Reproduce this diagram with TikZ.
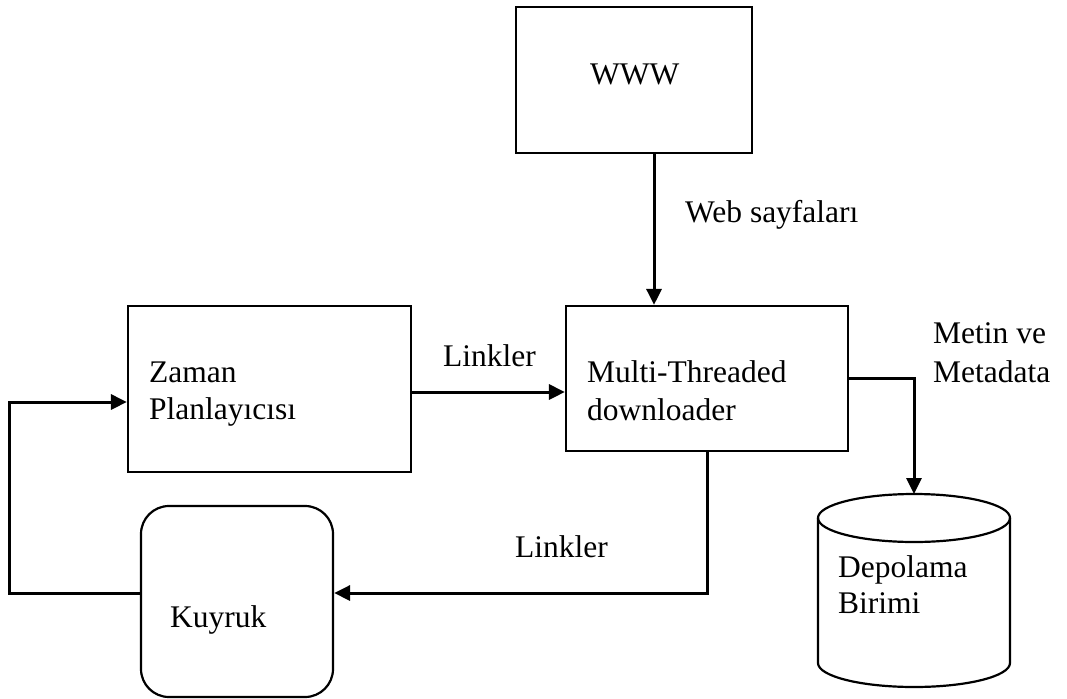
\documentclass[tikz,border=0pt]{standalone}
\usepackage{fontspec}
\setmainfont{Liberation Serif}
\usetikzlibrary{arrows.meta}
\begin{document}
\begin{tikzpicture}[x=1pt,y=-1pt,
  box/.style={draw=black,line width=2.2pt,rectangle,inner sep=0pt},
  arr/.style={draw=black,line width=3pt,line join=miter,-{Triangle[length=16pt,width=15pt]}},
  lbl/.style={anchor=base west,inner sep=0pt,font=\fontsize{31.5}{38}\selectfont}]
\useasboundingbox (0,0) rectangle (1067,698);
% boxes
\node[box,minimum width=236pt,minimum height=146pt] (www) at (634,80) {};
\node[box,minimum width=283pt,minimum height=166pt] (zaman) at (269.5,389) {};
\node[box,minimum width=282pt,minimum height=145pt] (multi) at (707,378.5) {};
\node[box,rounded corners=28pt,minimum width=192pt,minimum height=191pt] (kuyruk) at (237,601.5) {};
% cylinder
\coordinate (cyltop) at (914,494);
\draw[line width=2.2pt] (914,518) ellipse [x radius=96, y radius=24];
\draw[line width=2.2pt] (818,518) -- (818,663) arc[start angle=180,end angle=0,x radius=96,y radius=24] -- (1010,518);
% texts
\node[lbl] (t1) at (590,85) {WWW};
\node[lbl] (t2) at (685,222) {Web sayfaları};
\node[lbl] (t3) at (149,382) {Zaman};
\node[lbl] (t4) at (149,419) {Planlayıcısı};
\node[lbl] (t5) at (587,382) {Multi-Threaded};
\node[lbl] (t6) at (587,420) {downloader};
\node[lbl] (t7) at (443,366) {Linkler};
\node[lbl] (t8) at (515,557) {Linkler};
\node[lbl] (t9) at (933,343) {Metin ve};
\node[lbl] (t10) at (933,382) {Metadata};
\node[lbl] (t11) at (170,627) {Kuyruk};
\node[lbl] (t12) at (838,577) {Depolama};
\node[lbl] (t13) at (838,613) {Birimi};
% connectors
\coordinate (wout) at ([xshift=20pt]www.south);
\draw[arr] (wout) -- (wout |- multi.north);
\coordinate (zout) at ([yshift=-3pt]zaman.east);
\draw[arr] (zout) -- (zout -| multi.west);
\draw[arr] (multi.east) -- (multi.east -| cyltop) -- (cyltop);
\coordinate (kin) at ([yshift=8.5pt]kuyruk.east);
\draw[arr] (multi.south) -- (multi.south |- kin) -- (kin);
\coordinate (kl) at ([yshift=8.5pt]kuyruk.west);
\coordinate (zin) at ([yshift=-13pt]zaman.west);
\draw[arr] (kl) -- ++(-130,0) |- (zin);
\end{tikzpicture}
\end{document}
